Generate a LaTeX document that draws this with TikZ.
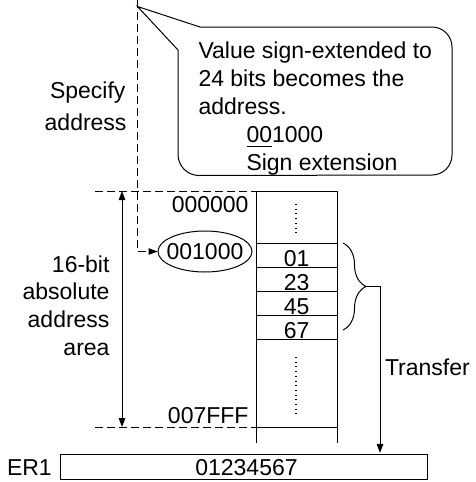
\documentclass[tikz,border=0pt]{standalone}
\usepackage{fontspec}
\setmainfont{Liberation Sans}
\usetikzlibrary{arrows.meta,decorations.pathreplacing,shapes.geometric}
% underline drawn a little lower than \underline would place it
\newsavebox\ulbox
\newcommand\lowrule[1]{\sbox\ulbox{#1}\rlap{\rule[-5pt]{\wd\ulbox}{0.9pt}}\usebox\ulbox}

\begin{document}
\begin{tikzpicture}[x=1pt,y=-1pt,line width=1pt,
  lbl/.style={inner sep=0pt,font=\fontsize{23}{28}\selectfont},
  tipend/.style={-{Triangle[length=9pt,width=6.5pt]}},
  bothends/.style={{Triangle[length=9pt,width=6.5pt]}-{Triangle[length=9pt,width=6.5pt]}},
  dashline/.style={dash pattern=on 8pt off 4pt},
  dotline/.style={line width=1.1pt,dash pattern=on 1pt off 3.7pt},
  cell/.style={draw,inner sep=0pt,minimum width=81.5pt,text height=23pt,text depth=1pt,
    font=\fontsize{23}{28}\selectfont}]
\useasboundingbox (0,0) rectangle (475,482);

% ---- memory column -------------------------------------------------
\draw (256,443) -- (256,191) -- (337.5,191) -- (337.5,443);
\draw (256,427) -- (337.5,427);
\node[cell] (m01) at (296.75,255) {01};
\node[cell] (m23) at (296.75,279) {23};
\node[cell] (m45) at (296.75,303) {45};
\node[cell] (m67) at (296.75,327) {67};
\draw[dotline] (296,204) -- (296,233);
\draw[dotline] (296,357) -- (296,414);

% ---- address range ---------------------------------------------------
\coordinate (lotop) at (95,191);
\coordinate (lobot) at (95,427);
\coordinate (artop) at (122,191);
\coordinate (arbot) at (122,427);
\draw[dashline] (lotop) -- (256,191);
\draw[dashline] (lobot) -- (256,427);
\draw[bothends] (artop) -- (arbot);
\node[lbl,anchor=base east] (a0) at (249,212) {000000};
\node[lbl,anchor=base east] (a7) at (249,423) {007FFF};
\node[lbl,anchor=base east] (l1) at (110,272) {16-bit};
\node[lbl,anchor=base east] (l2) at (110,299.8) {absolute};
\node[lbl,anchor=base east] (l3) at (110,327.6) {address};
\node[lbl,anchor=base east] (l4) at (110,355.4) {area};

% ---- specified address -------------------------------------------------
\node[ellipse,draw,inner sep=0pt,minimum width=94pt,minimum height=41pt,
  font=\fontsize{23}{28}\selectfont] (a1000) at (205,251.5) {\makebox[0pt]{001000}};
\coordinate (src) at (137,0);
\draw[dashline,tipend] (src) |- (a1000.west);
\node[lbl,anchor=base east] (s1) at (126,98) {Specify};
\node[lbl,anchor=base east] (s2) at (127,130) {address};

% ---- callout ------------------------------------------------------------
\coordinate (ptr) at (137.5,6.5);
\draw (ptr) -- (200,27) -- (432,27) arc (-90:0:20) -- (452,155) arc (0:90:20)
  -- (199,175.5) arc (90:180:21) -- (178,50) -- cycle;
\node[lbl,anchor=base west] (c1) at (198,58) {Value sign-extended to};
\node[lbl,anchor=base west] (c2) at (198,86) {24 bits becomes the};
\node[lbl,anchor=base west] (c3) at (198,114) {address.};
\node[lbl,anchor=base west] (c4) at (246,142) {\lowrule{00}1000};
\node[lbl,anchor=base west] (c5) at (246,170) {Sign extension};

% ---- transfer to ER1 ------------------------------------------------------
\node[draw,inner sep=0pt,minimum width=367pt,minimum height=24.5pt,
  font=\fontsize{23}{28}\selectfont] (er1) at (243.5,467.2) {\hspace*{6pt}01234567};
\node[lbl,anchor=base west] (er1name) at (6.5,475) {ER1};
\draw[decorate,decoration={brace,amplitude=23pt}] (343,243) -- (343,330);
\coordinate (btip) at (366,286.5);
\coordinate (bend) at (380,286.5);
\draw[tipend,shorten >=1.5pt] (btip) -- (bend) -- (bend |- er1.north);
\node[lbl,anchor=base west] (xfer) at (384.5,375) {Transfer};
\end{tikzpicture}
\end{document}
